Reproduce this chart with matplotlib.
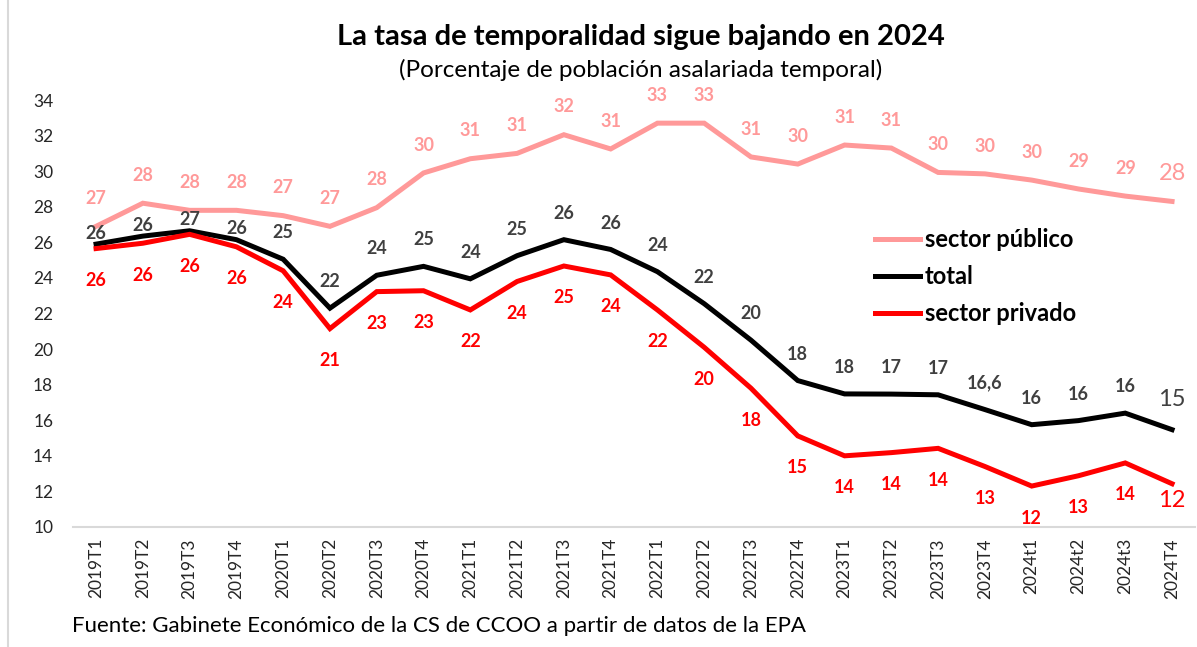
import matplotlib
matplotlib.use("Agg")
import matplotlib.pyplot as plt
from matplotlib.lines import Line2D
import numpy as np

plt.rcParams['font.family'] = ['Lato', 'DejaVu Sans']

# ---------------- datos
periodos = ['2019T1', '2019T2', '2019T3', '2019T4', '2020T1', '2020T2', '2020T3', '2020T4',
            '2021T1', '2021T2', '2021T3', '2021T4', '2022T1', '2022T2', '2022T3', '2022T4',
            '2023T1', '2023T2', '2023T3', '2023T4', '2024t1', '2024t2', '2024t3', '2024T4']

publico = [26.9, 28.2, 27.8, 27.8, 27.5, 26.9, 27.95, 29.9,
           30.7, 31.0, 32.05, 31.25, 32.7, 32.7, 30.8, 30.4,
           31.47, 31.3, 29.93, 29.85, 29.5, 29.0, 28.6, 28.3]
total = [25.9, 26.35, 26.65, 26.15, 25.05, 22.3, 24.15, 24.65,
         23.95, 25.25, 26.15, 25.6, 24.35, 22.55, 20.5, 18.23,
         17.48, 17.47, 17.43, 16.6, 15.75, 15.98, 16.4, 15.47]
privado = [25.65, 25.95, 26.45, 25.75, 24.4, 21.15, 23.23, 23.28,
           22.2, 23.8, 24.67, 24.17, 22.2, 20.1, 17.8, 15.12,
           14.0, 14.18, 14.42, 13.4, 12.3, 12.88, 13.6, 12.43]

et_publico = ['27', '28', '28', '28', '27', '27', '28', '30', '31', '31', '32', '31',
              '33', '33', '31', '30', '31', '31', '30', '30', '30', '29', '29', '28']
et_total = ['26', '26', '27', '26', '25', '22', '24', '25', '24', '25', '26', '26',
            '24', '22', '20', '18', '18', '17', '17', '16,6', '16', '16', '16', '15']
et_privado = ['26', '26', '26', '26', '24', '21', '23', '23', '22', '24', '25', '24',
              '22', '20', '18', '15', '14', '14', '14', '13', '12', '13', '14', '12']

c_pub = '#FF9999'
c_tot = '#000000'
c_priv = '#FF0000'

fig = plt.figure(figsize=(11.97, 6.47), dpi=100)
ax = fig.add_axes([0.0607, 0.1855, 0.938, 0.6599])

x = np.arange(len(periodos))
ax.plot(x, publico, color=c_pub, lw=3.6, solid_joinstyle='miter', label='sector público')
ax.plot(x, total, color=c_tot, lw=3.6, solid_joinstyle='miter', label='total')
ax.plot(x, privado, color=c_priv, lw=3.6, solid_joinstyle='miter', label='sector privado')

ax.set_xlim(-0.5, len(periodos) - 0.5)
ax.set_ylim(10, 34)
ax.set_yticks(np.arange(10, 35, 2))
ax.set_xticks(x)
ax.set_xticklabels(periodos, rotation=90, fontsize=12.5)
ax.tick_params(axis='y', labelsize=12.5, length=0, pad=14, labelcolor='#262626')
ax.tick_params(axis='x', length=0, pad=8, labelcolor='#262626')
for s in ['top', 'right', 'left']:
    ax.spines[s].set_visible(False)
ax.spines['bottom'].set_color('#D9D9D9')
ax.spines['bottom'].set_linewidth(1.5)

# etiquetas de datos
n = len(periodos)
for i in range(n):
    ultimo = (i == n - 1)
    fs = 17 if ultimo else 13
    fw = 'normal' if ultimo else 'bold'
    ax.annotate(et_publico[i], (x[i], publico[i]), textcoords='offset points',
                xytext=(0, 20), ha='center', va='center', color=c_pub, fontsize=fs, fontweight=fw)
    dy = 8 if i < 4 else 19
    if ultimo:
        dy = 22
    ax.annotate(et_total[i], (x[i], total[i]), textcoords='offset points',
                xytext=(0, dy), ha='center', va='center', color='#404040', fontsize=fs, fontweight=fw)
    dy = -23
    if ultimo:
        dy = -12
    ax.annotate(et_privado[i], (x[i], privado[i]), textcoords='offset points',
                xytext=(0, dy), ha='center', va='center', color=c_priv, fontsize=fs, fontweight=fw)

leg = ax.legend(loc='upper left', bbox_to_anchor=(0.715, 0.70), frameon=False,
                prop={'size': 17, 'weight': 'bold'}, handlelength=1.9, handletextpad=0.2,
                labelspacing=0.6, borderaxespad=0, borderpad=0)

fig.text(0.535, 0.943, 'La tasa de temporalidad sigue bajando en 2024', ha='center', va='center',
         fontsize=21, fontweight='bold')
fig.text(0.535, 0.892, '(Porcentaje de población asalariada temporal)', ha='center', va='center',
         fontsize=17.5)
fig.text(0.060, 0.032, 'Fuente: Gabinete Económico de la CS de CCOO a partir de datos de la EPA',
         ha='left', va='center', fontsize=16)

# borde izquierdo del grafico
fig.add_artist(Line2D([0.007, 0.007], [0, 1], transform=fig.transFigure, color='#D9D9D9', lw=1.5))

fig.savefig('out.png', dpi=100)
